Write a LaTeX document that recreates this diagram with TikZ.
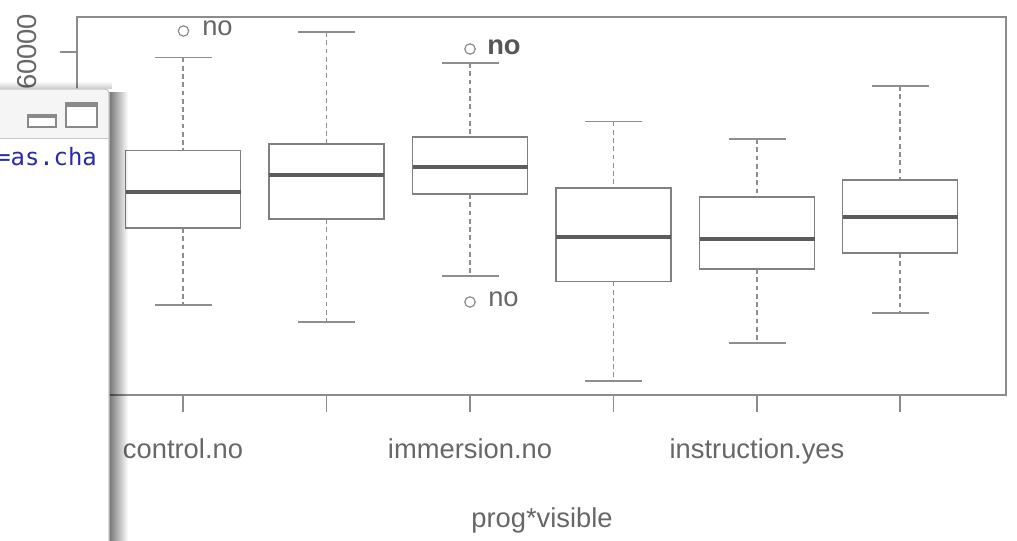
\documentclass[tikz,border=0pt]{standalone}
\usepackage{fontspec}
\setmainfont{Liberation Sans}
\newfontfamily\codefont{DejaVu Sans Mono}
\usetikzlibrary{fadings}
\definecolor{framecol}{HTML}{8C8C8C}
\definecolor{boxcol}{HTML}{808080}
\definecolor{medcol}{HTML}{5C5C5C}
\definecolor{whiskcol}{HTML}{8E8E8E}
\definecolor{labcol}{HTML}{676767}
\definecolor{boldcol}{HTML}{555555}
\definecolor{codeblue}{HTML}{2B2BA8}
\definecolor{titlebg}{HTML}{F5F5F5}
\definecolor{winborder}{HTML}{C8C8C8}
\definecolor{iconcol}{HTML}{8A8A8A}
\tikzfading[name=fadeR, left color=transparent!0, right color=transparent!100]
\tikzfading[name=fadeU, bottom color=transparent!0, top color=transparent!100]
\begin{document}
\begin{tikzpicture}[x=0.75pt,y=-0.75pt,
  framest/.style={draw=framecol, line width=1.1pt},
  tickst/.style={draw=framecol, line width=1pt},
  whisk/.style={draw=whiskcol, line width=0.9pt, dash pattern=on 3.6pt off 2.6pt},
  capst/.style={draw=whiskcol, line width=1.1pt},
  boxst/.style={draw=boxcol, line width=1.2pt},
  medst/.style={draw=medcol, line width=2.8pt},
  outl/.style={draw=framecol, line width=0.9pt},
  axlab/.style={text=labcol, font=\fontsize{20.5}{24}\selectfont, inner sep=0pt},
  nolab/.style={text=labcol, font=\fontsize{20.5}{24}\selectfont, inner sep=0pt, anchor=base west},
  nobold/.style={text=boldcol, font=\fontsize{20.5}{24}\selectfont\bfseries, inner sep=0pt, anchor=base west},
  iconst/.style={draw=iconcol, line width=1pt, fill=white}
]
\useasboundingbox (0,0) rectangle (1017,541);
\fill[white] (0,0) rectangle (1017,541);

% plot frame and y axis
\draw[framest] (77,17) rectangle (1006,395);
\draw[tickst] (60,52) -- (77,52);
\node[axlab, rotate=90] (ylab) at (27.5,52) {60000};

% boxplots
\foreach \x/\ct/\bt/\md/\bb/\cb in {183/57.5/150.5/192/228/305, 326.5/32/144/175/219/322, 470/63/137/167/194/276, 613.5/121.5/188/237/281.5/381, 757/139/197/239/269/343, 900/86/180/217/253/313}
{
  \draw[whisk] (\x,\ct) -- (\x,\bt);
  \draw[whisk] (\x,\bb) -- (\x,\cb);
  \draw[capst] (\x-28.5,\ct) -- (\x+28.5,\ct);
  \draw[capst] (\x-28.5,\cb) -- (\x+28.5,\cb);
  \draw[boxst] (\x-57.5,\bt) rectangle (\x+57.5,\bb);
  \draw[medst] (\x-57.5,\md) -- (\x+57.5,\md);
  \draw[tickst] (\x,395) -- (\x,412);
}

% outliers
\draw[outl] (183.5,31) circle[radius=3.9pt];
\node[nolab] (o1) at (202,36) {no};
\draw[outl] (470,49) circle[radius=3.9pt];
\node[nobold] (o2) at (487,55) {no};
\draw[outl] (470,302) circle[radius=3.9pt];
\node[nolab] (o3) at (488,307) {no};

% axis labels
\node[axlab, anchor=base] (l1) at (183,458) {control.no};
\node[axlab, anchor=base] (l2) at (470,458) {immersion.no};
\node[axlab, anchor=base] (l3) at (757,458) {instruction.yes};
\node[axlab, anchor=base] (xlab) at (542,527) {prog*visible};

% overlapping window: shadows
\fill[black, opacity=0.55, path fading=fadeR] (109,92) rectangle (128,545);
\fill[black, opacity=0.22, path fading=fadeU] (-5,81) rectangle (112,89.5);

% window body
\fill[white] (-5,89) -- (105,89) arc[start angle=90, end angle=0, radius=3pt] -- (109,545) -- (-5,545) -- cycle;
\fill[titlebg] (-5,89) -- (105,89) arc[start angle=90, end angle=0, radius=3pt] -- (109,138) -- (-5,138) -- cycle;
\draw[winborder, line width=0.8pt] (-5,89) -- (105,89) arc[start angle=90, end angle=0, radius=3pt] -- (109,545);
\draw[winborder, line width=0.8pt] (-5,138.5) -- (109,138.5);

% window icons
\draw[iconst] (28,115) rectangle (56,127);
\fill[iconcol] (28,114.3) rectangle (56,118.5);
\draw[iconst] (66,103) rectangle (97,127);
\fill[iconcol] (66,102.3) rectangle (97,107);

% code text
\begin{scope}
\clip (0,139) rectangle (108.5,545);
\node[text=codeblue, font=\codefont\fontsize{17.9}{20}\selectfont, inner sep=0pt, anchor=base west] (code) at (-4,166) {=as.cha};
\end{scope}
\end{tikzpicture}
\end{document}
